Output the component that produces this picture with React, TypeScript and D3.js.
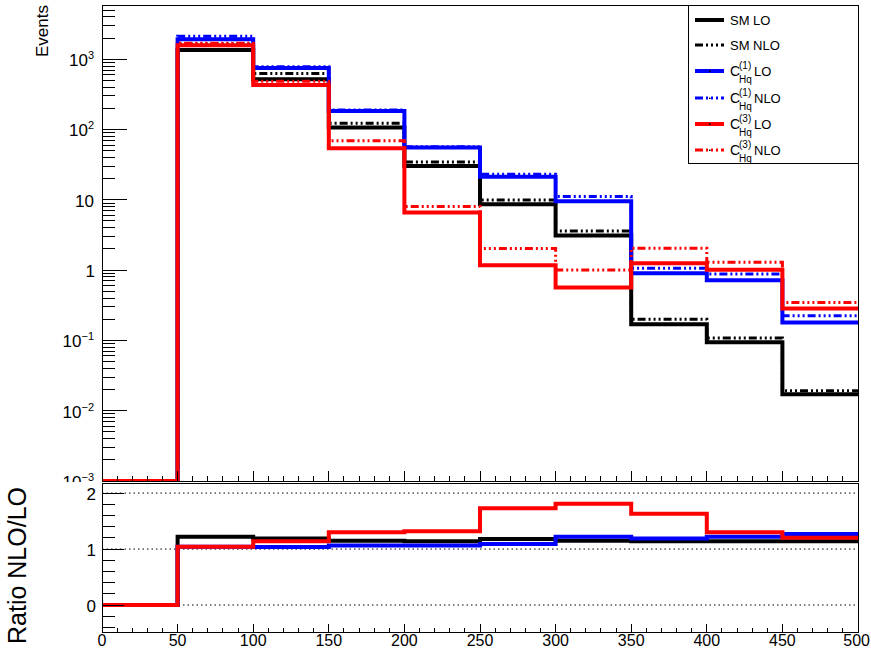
import React from "react";
import * as d3 from "d3";

// bin edges (GeV) and per-bin event counts
const binEdges = [0, 50, 100, 150, 200, 250, 300, 350, 400, 450, 500];
const smLO = [0, 1356, 520, 107, 30.3, 8.65, 3.1, 0.17, 0.094, 0.0172];
const smNLO = [0, 1650, 626, 123, 34.6, 9.9, 3.6, 0.2, 0.108, 0.0192];
const c1LO = [0, 1923, 752, 184, 55.5, 21.2, 9.5, 0.9, 0.72, 0.18];
const c1NLO = [0, 2124, 778, 190, 57, 23.1, 11.1, 1.06, 0.88, 0.224];
const c3LO = [0, 1582, 430, 54, 6.6, 1.17, 0.565, 1.25, 1.01, 0.285];
const c3NLO = [0, 1690, 487, 69, 8.0, 2.03, 1.0, 2.04, 1.29, 0.347];

// ratio NLO/LO per bin
const ratioSM = [0, 1.22, 1.19, 1.15, 1.14, 1.18, 1.15, 1.14, 1.14, 1.14];
const ratioC1 = [0, 1.04, 1.035, 1.065, 1.065, 1.09, 1.22, 1.19, 1.22, 1.27];
const ratioC3 = [0, 1.04, 1.14, 1.3, 1.32, 1.73, 1.81, 1.63, 1.3, 1.2];

const xTicks = [0, 50, 100, 150, 200, 250, 300, 350, 400, 450, 500];
const logExps = [-3, -2, -1, 0, 1, 2, 3];
const ratioTicks = [0, 1, 2];

const FONT = "'Liberation Sans', Arial, Helvetica, sans-serif";
const W = 871;
const H = 650;
const L = 102;
const R = 858;
const T = 5;
const B = 481;
const RT = 483;
const RB = 632;

const x = d3.scaleLinear().domain([0, 500]).range([L, R]);
const y = d3.scaleLog().domain([1e-3, 5900]).range([B, T]);
const yr = d3.scaleLinear().domain([-0.482, 2.18]).range([RB, RT]);

const NLO_DASH = "8,3,2,3,2,3,2,3";

function histPath(vals: number[], ys: (v: number) => number, floor: number) {
    const pts: [number, number][] = vals.map((v, i) => [binEdges[i], v]);
    pts.push([binEdges[vals.length], vals[vals.length - 1]]);
    return (
        d3
            .line<[number, number]>()
            .x((d) => x(d[0]))
            .y((d) => ys(Math.max(d[1], floor)))
            .curve(d3.curveStepAfter)(pts) || ""
    );
}

const mainSeries = [
    { vals: smLO, color: "#000000", dash: null },
    { vals: smNLO, color: "#000000", dash: NLO_DASH },
    { vals: c1LO, color: "#0000ff", dash: null },
    { vals: c1NLO, color: "#0000ff", dash: NLO_DASH },
    { vals: c3LO, color: "#ff0000", dash: null },
    { vals: c3NLO, color: "#ff0000", dash: NLO_DASH },
];

const ratioSeries = [
    { vals: ratioSM, color: "#000000" },
    { vals: ratioC1, color: "#0000ff" },
    { vals: ratioC3, color: "#ff0000" },
];

const legendRows = [
    { c: null, name: "SM LO", color: "#000000", dash: null },
    { c: null, name: "SM NLO", color: "#000000", dash: NLO_DASH },
    { c: "(1)", name: "LO", color: "#0000ff", dash: null },
    { c: "(1)", name: "NLO", color: "#0000ff", dash: NLO_DASH },
    { c: "(3)", name: "LO", color: "#ff0000", dash: null },
    { c: "(3)", name: "NLO", color: "#ff0000", dash: NLO_DASH },
];
const legendY = [20, 45, 71, 98, 124, 150];

const App: React.FC = () => {
    // minor ticks on the log axis
    const logMinor: number[] = [];
    for (let e = -3; e <= 3; e++) {
        for (let m = 2; m <= 9; m++) {
            const v = m * Math.pow(10, e);
            if (v <= 5900) logMinor.push(v);
        }
    }
    const xMinor = d3.range(0, 501, 10).filter((v) => v % 50 !== 0);
    const ratioMinor = d3.range(-0.4, 2.11, 0.2).filter((v) => Math.abs(v - Math.round(v)) > 0.01);

    return (
        <svg
            width={W}
            height={H}
            style={{ position: "absolute", left: 0, top: 0, background: "#fff" }}
            fontFamily={FONT}
        >
            <defs>
                <clipPath id="mainClip">
                    <rect x={L} y={T} width={R - L} height={B - T} />
                </clipPath>
                <clipPath id="ratioClip">
                    <rect x={L} y={RT} width={R - L} height={RB - RT} />
                </clipPath>
            </defs>
            <rect x={0} y={0} width={W} height={H} fill="#fff" />

            {/* upper pad */}
            <g clipPath="url(#mainClip)">
                {mainSeries.map((s, i) => (
                    <path
                        key={i}
                        d={histPath(s.vals, y, 1e-3)}
                        fill="none"
                        stroke={s.color}
                        strokeWidth={s.dash ? 3 : 4}
                        strokeDasharray={s.dash || undefined}
                    />
                ))}
            </g>

            <g shapeRendering="crispEdges" stroke="#000" strokeWidth={1}>
                <rect x={L} y={T} width={R - L} height={B - T} fill="none" />
                {logExps.map((e) => (
                    <line key={e} x1={L} x2={L + 25} y1={y(Math.pow(10, e))} y2={y(Math.pow(10, e))} />
                ))}
                {logMinor.map((v, i) => (
                    <line key={i} x1={L} x2={L + 13} y1={y(v)} y2={y(v)} />
                ))}
                {xTicks.map((v) => (
                    <line key={v} x1={x(v)} x2={x(v)} y1={B} y2={B - 10} />
                ))}
                {xMinor.map((v) => (
                    <line key={v} x1={x(v)} x2={x(v)} y1={B} y2={B - 5} />
                ))}
            </g>

            <g fontSize={17} textAnchor="end" fill="#000">
                {logExps.map((e) => {
                    const yy = y(Math.pow(10, e)) + 7;
                    if (e === 0) return <text key={e} x={95} y={yy}>1</text>;
                    if (e === 1) return <text key={e} x={94} y={yy}>10</text>;
                    return (
                        <text key={e} x={94} y={yy}>
                            <tspan>10</tspan>
                            <tspan dy={-7} fontSize={11}>
                                {e < 0 ? `\u2212${-e}` : `${e}`}
                            </tspan>
                        </text>
                    );
                })}
            </g>
            <text
                transform={`translate(48,${T}) rotate(-90)`}
                textAnchor="end"
                fontSize={17}
                fill="#000"
            >
                Events
            </text>

            {/* legend */}
            <rect x={688} y={T} width={R - 688} height={158} fill="#fff" stroke="#000" strokeWidth={1} shapeRendering="crispEdges" />
            {legendRows.map((r, i) => {
                const yc = legendY[i];
                return (
                    <g key={i}>
                        <line
                            x1={695}
                            x2={724}
                            y1={yc}
                            y2={yc}
                            stroke={r.color}
                            strokeWidth={r.dash ? 3 : 4}
                            strokeDasharray={r.dash || undefined}
                        />
                        {r.c && <rect x={709} y={yc - 0.5} width={1.5} height={1.5} fill="#000" />}
                        {r.c ? (
                            <g fill="#000">
                                <text x={730} y={yc + 5} fontSize={14}>C</text>
                                <text x={739} y={yc - 2} fontSize={10}>{r.c}</text>
                                <text x={739} y={yc + 12} fontSize={10}>Hq</text>
                                <text x={754} y={yc + 5} fontSize={13}>{r.name}</text>
                            </g>
                        ) : (
                            <text x={730} y={yc + 4.5} fontSize={13} fill="#000">
                                {r.name}
                            </text>
                        )}
                    </g>
                );
            })}

            {/* lower pad */}
            <rect x={0} y={RT - 1} width={W} height={H - RT + 1} fill="#fff" />
            <g stroke="#000" strokeWidth={1} strokeDasharray="1.5,3">
                {ratioTicks.map((v) => (
                    <line key={v} x1={L} x2={R} y1={yr(v)} y2={yr(v)} />
                ))}
            </g>
            <g clipPath="url(#ratioClip)">
                {ratioSeries.map((s, i) => (
                    <path
                        key={i}
                        d={histPath(s.vals, yr, -10)}
                        fill="none"
                        stroke={s.color}
                        strokeWidth={4}
                    />
                ))}
            </g>
            <g shapeRendering="crispEdges" stroke="#000" strokeWidth={1}>
                <rect x={L} y={RT} width={R - L} height={RB - RT} fill="none" />
                {ratioTicks.map((v) => (
                    <line key={v} x1={L} x2={L + 22} y1={yr(v)} y2={yr(v)} />
                ))}
                {ratioMinor.map((v, i) => (
                    <line key={i} x1={L} x2={L + 13} y1={yr(v)} y2={yr(v)} />
                ))}
                {xTicks.map((v) => (
                    <line key={v} x1={x(v)} x2={x(v)} y1={RB} y2={RB - 8} />
                ))}
                {xMinor.map((v) => (
                    <line key={v} x1={x(v)} x2={x(v)} y1={RB} y2={RB - 4} />
                ))}
            </g>
            <g fontSize={17} fill="#000">
                {ratioTicks.map((v) => (
                    <text key={v} x={96} y={yr(v) + 7} textAnchor="end">
                        {v}
                    </text>
                ))}
            </g>
            <g fontSize={16} fill="#000">
                {xTicks.map((v) => (
                    <text key={v} x={v === 500 ? W - 1 : x(v)} y={646} textAnchor={v === 500 ? "end" : "middle"}>
                        {v}
                    </text>
                ))}
            </g>
            <text
                transform={`translate(26,487) rotate(-90)`}
                textAnchor="end"
                fontSize={25}
                fill="#000"
            >
                Ratio NLO/LO
            </text>
        </svg>
    );
};

export default App;
